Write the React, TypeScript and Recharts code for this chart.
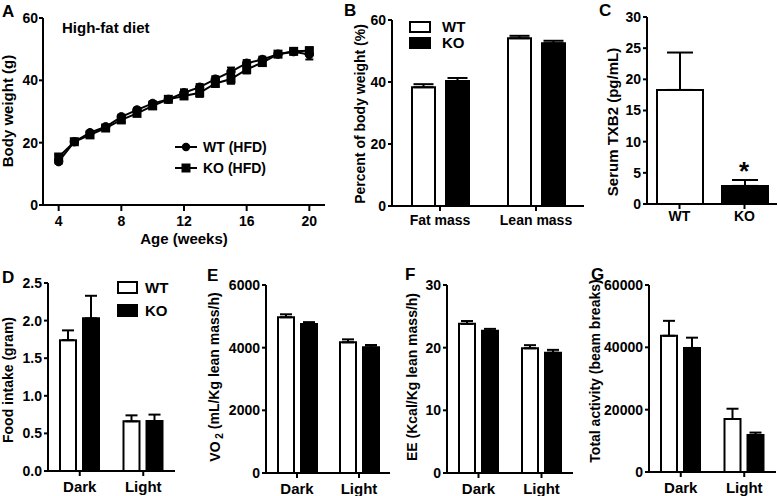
import React from 'react';
import { LineChart, Line, BarChart, Bar, XAxis, YAxis, ErrorBar, Cell } from 'recharts';

const FONT = '"Liberation Sans", Arial, Helvetica, sans-serif';

// ---- Panel A: body weight over time ----
const weeks = [4, 5, 6, 7, 8, 9, 10, 11, 12, 13, 14, 15, 16, 17, 18, 19, 20];
const wtBodyWeight = [13.9, 20.3, 23.2, 25.1, 28.3, 30.5, 32.6, 33.9, 36.0, 37.8, 40.4, 42.8, 45.5, 46.7, 48.4, 49.2, 48.3];
const wtBodyWeightErr = [0.6, 0.5, 0.6, 0.6, 0.7, 0.7, 0.7, 0.6, 1.1, 1.0, 0.9, 1.3, 1.0, 0.9, 0.7, 0.8, 1.6];
const koBodyWeight = [15.4, 20.3, 22.5, 24.7, 27.3, 29.4, 31.8, 33.9, 35.0, 36.0, 39.0, 40.4, 43.5, 45.7, 48.4, 49.3, 49.5];
const koBodyWeightErr = [0.7, 0.6, 0.6, 0.6, 0.7, 0.7, 0.8, 0.6, 1.0, 1.3, 1.0, 1.5, 1.3, 1.0, 0.7, 0.8, 1.1];
const weekTicks = [4, 8, 12, 16, 20];
const weightTicks = [0, 20, 40, 60];

// ---- Panel B: body composition ----
const compCats = ['Fat mass', 'Lean mass'];
const compWT = [38.3, 54.1];
const compWTErr = [1.0, 0.8];
const compKO = [40.3, 52.5];
const compKOErr = [1.0, 0.8];
const compTicks = [0, 20, 40, 60];

// ---- Panel C: serum TXB2 ----
const txbCats = ['WT', 'KO'];
const txbVals = [18.3, 2.9];
const txbErr = [6.0, 0.95];
const txbTicks = [0, 5, 10, 15, 20, 25, 30];

// ---- Panels D-G: metabolic cage ----
const phaseCats = ['Dark', 'Light'];
const foodWT = [1.74, 0.66];
const foodWTErr = [0.13, 0.08];
const foodKO = [2.03, 0.665];
const foodKOErr = [0.3, 0.085];
const foodTicks = [0, 0.5, 1.0, 1.5, 2.0, 2.5];

const vo2WT = [4970, 4170];
const vo2WTErr = [95, 95];
const vo2KO = [4755, 4010];
const vo2KOErr = [60, 75];
const vo2Ticks = [0, 2000, 4000, 6000];

const eeWT = [23.8, 19.9];
const eeWTErr = [0.45, 0.5];
const eeKO = [22.7, 19.2];
const eeKOErr = [0.3, 0.45];
const eeTicks = [0, 10, 20, 30];

const actWT = [43700, 17000];
const actWTErr = [4800, 3300];
const actKO = [39800, 11900];
const actKOErr = [3300, 750];
const actTicks = [0, 20000, 40000, 60000];

const weightData = weeks.map((w, i) => ({
  week: w,
  wt: wtBodyWeight[i],
  wtErr: wtBodyWeightErr[i],
  ko: koBodyWeight[i],
  koErr: koBodyWeightErr[i],
}));

const pairData = (cats: string[], wt: number[], wtE: number[], ko: number[], koE: number[]) =>
  cats.map((c, i) => ({ cat: c, wt: wt[i], wtErr: [0, wtE[i]], ko: ko[i], koErr: [0, koE[i]] }));

const compData = pairData(compCats, compWT, compWTErr, compKO, compKOErr);
const foodData = pairData(phaseCats, foodWT, foodWTErr, foodKO, foodKOErr);
const vo2Data = pairData(phaseCats, vo2WT, vo2WTErr, vo2KO, vo2KOErr);
const eeData = pairData(phaseCats, eeWT, eeWTErr, eeKO, eeKOErr);
const actData = pairData(phaseCats, actWT, actWTErr, actKO, actKOErr);
const txbData = txbCats.map((c, i) => ({ cat: c, v: txbVals[i], err: [0, txbErr[i]] }));

const axisLine = { stroke: '#000', strokeWidth: 2 };
const tickStyle = (fs: number) => ({ fill: '#000', fontSize: fs, fontWeight: 700, fontFamily: FONT });

type Box = [number, number, number, number];

function place(box: Box, plot: Box) {
  const [x0, y0, w, h] = box;
  const [pl, pt, pr, pb] = plot;
  return {
    style: { position: 'absolute' as const, left: x0, top: y0 },
    w,
    h,
    margin: { top: pt - y0, right: x0 + w - pr, left: 0, bottom: 0 },
    yw: pl - x0,
    xh: y0 + h - pb,
  };
}

type PairProps = {
  box: Box;
  plot: Box;
  data: any[];
  domain: [number, number];
  ticks: number[];
  fmt?: (v: number) => string;
  barSize: number;
  barGap: number;
  cap: number;
  xTickSize: number;
  xTickMargin: number;
  xFont: number;
};

function PairBars(p: PairProps) {
  const L = place(p.box, p.plot);
  return (
    <div style={L.style}>
      <BarChart width={L.w} height={L.h} data={p.data} margin={L.margin} barGap={p.barGap} barSize={p.barSize}>
        <XAxis
          dataKey="cat"
          height={L.xh}
          axisLine={axisLine}
          tickLine={axisLine}
          tickSize={p.xTickSize}
          tickMargin={p.xTickMargin}
          tick={tickStyle(p.xFont)}
          interval={0}
        />
        <YAxis
          width={L.yw}
          domain={p.domain}
          ticks={p.ticks}
          type="number"
          allowDataOverflow
          axisLine={axisLine}
          tickLine={axisLine}
          tickSize={4}
          tickMargin={2}
          tick={tickStyle(14)}
          tickFormatter={p.fmt}
          interval={0}
        />
        <Bar dataKey="wt" fill="#fff" stroke="#000" strokeWidth={2} isAnimationActive={false}>
          <ErrorBar dataKey="wtErr" width={p.cap} stroke="#000" strokeWidth={2} direction="y" isAnimationActive={false} />
        </Bar>
        <Bar dataKey="ko" fill="#000" stroke="#000" strokeWidth={2} isAnimationActive={false}>
          <ErrorBar dataKey="koErr" width={p.cap} stroke="#000" strokeWidth={2} direction="y" isAnimationActive={false} />
        </Bar>
      </BarChart>
    </div>
  );
}

const CircleDot = (props: any) => {
  const { cx, cy, index } = props;
  if (cx == null || cy == null) return <g key={`c${index}`} />;
  return <circle key={`c${index}`} cx={cx} cy={cy} r={4.2} fill="#000" stroke="#000" />;
};
const SquareDot = (props: any) => {
  const { cx, cy, index } = props;
  if (cx == null || cy == null) return <g key={`s${index}`} />;
  return <rect key={`s${index}`} x={cx - 4.5} y={cy - 4.5} width={9} height={9} fill="#000" />;
};

function PanelA() {
  const L = place([0, 0, 335, 248], [43, 18, 325, 205]);
  return (
    <div style={L.style}>
      <LineChart width={L.w} height={L.h} data={weightData} margin={L.margin}>
        <XAxis
          dataKey="week"
          type="number"
          domain={[3, 21]}
          ticks={weekTicks}
          height={L.xh}
          axisLine={axisLine}
          tickLine={axisLine}
          tickSize={6}
          tickMargin={5}
          tick={tickStyle(14)}
          interval={0}
        />
        <YAxis
          width={L.yw}
          domain={[0, 60]}
          ticks={weightTicks}
          type="number"
          axisLine={axisLine}
          tickLine={axisLine}
          tickSize={4}
          tickMargin={1}
          tick={tickStyle(14)}
          interval={0}
        />
        <Line dataKey="wt" stroke="#000" strokeWidth={2} dot={CircleDot} isAnimationActive={false}>
          <ErrorBar dataKey="wtErr" width={4} stroke="#000" strokeWidth={2} direction="y" isAnimationActive={false} />
        </Line>
        <Line dataKey="ko" stroke="#000" strokeWidth={2} dot={SquareDot} isAnimationActive={false}>
          <ErrorBar dataKey="koErr" width={4} stroke="#000" strokeWidth={2} direction="y" isAnimationActive={false} />
        </Line>
      </LineChart>
    </div>
  );
}

function PanelC() {
  const L = place([590, 0, 188, 248], [647, 17, 777, 204]);
  return (
    <div style={L.style}>
      <BarChart width={L.w} height={L.h} data={txbData} margin={L.margin} barSize={46}>
        <XAxis
          dataKey="cat"
          height={L.xh}
          axisLine={axisLine}
          tickLine={axisLine}
          tickSize={5}
          tickMargin={2}
          tick={tickStyle(14)}
          interval={0}
        />
        <YAxis
          width={L.yw}
          domain={[0, 30]}
          ticks={txbTicks}
          type="number"
          axisLine={axisLine}
          tickLine={axisLine}
          tickSize={4}
          tickMargin={2}
          tick={tickStyle(14)}
          interval={0}
        />
        <Bar dataKey="v" stroke="#000" strokeWidth={2} isAnimationActive={false}>
          {txbData.map((d, i) => (
            <Cell key={d.cat} fill={i === 0 ? '#fff' : '#000'} />
          ))}
          <ErrorBar dataKey="err" width={13} stroke="#000" strokeWidth={2} direction="y" isAnimationActive={false} />
        </Bar>
      </BarChart>
    </div>
  );
}

function VLabel({ cx, cy, fs, children }: { cx: number; cy: number; fs: number; children: React.ReactNode }) {
  return (
    <text
      transform={`translate(${cx} ${cy}) rotate(-90)`}
      textAnchor="middle"
      dy="0.36em"
      fontSize={fs}
      fontWeight={700}
      fontFamily={FONT}
      fill="#000"
    >
      {children}
    </text>
  );
}

function Overlay() {
  const t = { fontFamily: FONT, fontWeight: 700, fill: '#000' } as const;
  return (
    <svg
      width={778}
      height={496}
      style={{ position: 'absolute', left: 0, top: 0, pointerEvents: 'none', overflow: 'visible' }}
    >
      {/* panel letters */}
      <text x={2} y={17} fontSize={17} {...t}>A</text>
      <text x={344} y={16} fontSize={17} {...t}>B</text>
      <text x={599} y={16} fontSize={17} {...t}>C</text>
      <text x={2} y={283} fontSize={17} {...t}>D</text>
      <text x={207} y={281} fontSize={17} {...t}>E</text>
      <text x={405} y={280} fontSize={17} {...t}>F</text>
      <text x={591} y={280} fontSize={17} {...t}>G</text>

      {/* Panel A texts */}
      <text x={62} y={32.5} fontSize={15} {...t}>High-fat diet</text>
      <text x={184} y={244} fontSize={15} textAnchor="middle" {...t}>Age (weeks)</text>
      <VLabel cx={8} cy={111} fs={15}>Body weight (g)</VLabel>
      <line x1={175} y1={147} x2={197} y2={147} stroke="#000" strokeWidth={2} />
      <circle cx={186} cy={147} r={4.2} fill="#000" />
      <text x={203} y={147} dy="0.36em" fontSize={14} {...t}>WT (HFD)</text>
      <line x1={175} y1={168} x2={197} y2={168} stroke="#000" strokeWidth={2} />
      <rect x={181.5} y={163.5} width={9} height={9} fill="#000" />
      <text x={203} y={168} dy="0.36em" fontSize={14} {...t}>KO (HFD)</text>

      {/* Panel B texts */}
      <VLabel cx={360} cy={114} fs={14}>Percent of body weight (%)</VLabel>
      <rect x={410} y={22} width={20} height={10} fill="#fff" stroke="#000" strokeWidth={2} />
      <text x={442} y={27} dy="0.36em" fontSize={15} {...t}>WT</text>
      <rect x={410} y={38} width={20} height={10} fill="#000" stroke="#000" strokeWidth={2} />
      <text x={442} y={43} dy="0.36em" fontSize={15} {...t}>KO</text>

      {/* Panel C texts */}
      <VLabel cx={613} cy={122} fs={15}>Serum TXB2 (pg/mL)</VLabel>
      <text x={744} y={180} fontSize={26} textAnchor="middle" {...t}>*</text>

      {/* Panel D texts */}
      <VLabel cx={8} cy={380} fs={14}>Food intake (gram)</VLabel>
      <rect x={118} y={282} width={19} height={11} fill="#fff" stroke="#000" strokeWidth={2} />
      <text x={145} y={288} dy="0.36em" fontSize={15} {...t}>WT</text>
      <rect x={118} y={305} width={19} height={11} fill="#000" stroke="#000" strokeWidth={2} />
      <text x={145} y={311} dy="0.36em" fontSize={15} {...t}>KO</text>

      {/* Panel E-G y labels */}
      <VLabel cx={215} cy={377} fs={14}>
        <tspan>VO</tspan>
        <tspan dy="0.3em" fontSize={10}> 2</tspan>
        <tspan dy="-0.3em"> (mL/Kg lean mass/h)</tspan>
      </VLabel>
      <VLabel cx={412} cy={377} fs={14}>EE (Kcal/Kg lean mass/h)</VLabel>
      <VLabel cx={595} cy={371} fs={14}>Total activity (beam breaks)</VLabel>
    </svg>
  );
}

export default function App() {
  return (
    <div
      style={{
        position: 'absolute',
        left: 0,
        top: 0,
        width: 778,
        height: 496,
        background: '#fff',
        overflow: 'hidden',
        fontFamily: FONT,
      }}
    >
      <PanelA />
      <PairBars
        box={[340, 0, 246, 248]}
        plot={[392, 20, 584, 206]}
        data={compData}
        domain={[0, 60]}
        ticks={compTicks}
        barSize={23}
        barGap={11}
        cap={10}
        xTickSize={5}
        xTickMargin={4}
        xFont={14}
      />
      <PanelC />
      <PairBars
        box={[0, 250, 188, 246]}
        plot={[48, 283, 175, 471]}
        data={foodData}
        domain={[0, 2.5]}
        ticks={foodTicks}
        fmt={(v: number) => v.toFixed(1)}
        barSize={16}
        barGap={7}
        cap={6}
        xTickSize={5}
        xTickMargin={5}
        xFont={15}
      />
      <PairBars
        box={[190, 250, 202, 246]}
        plot={[266, 285, 390, 473]}
        data={vo2Data}
        domain={[0, 6000]}
        ticks={vo2Ticks}
        barSize={16}
        barGap={7}
        cap={6}
        xTickSize={5}
        xTickMargin={5}
        xFont={15}
      />
      <PairBars
        box={[395, 250, 180, 246]}
        plot={[447, 285, 573, 473]}
        data={eeData}
        domain={[0, 30]}
        ticks={eeTicks}
        barSize={16}
        barGap={7}
        cap={6}
        xTickSize={5}
        xTickMargin={5}
        xFont={15}
      />
      <PairBars
        box={[580, 250, 198, 246]}
        plot={[649, 285, 776, 472]}
        data={actData}
        domain={[0, 60000]}
        ticks={actTicks}
        barSize={16}
        barGap={7}
        cap={6}
        xTickSize={5}
        xTickMargin={5}
        xFont={15}
      />
      <Overlay />
    </div>
  );
}
